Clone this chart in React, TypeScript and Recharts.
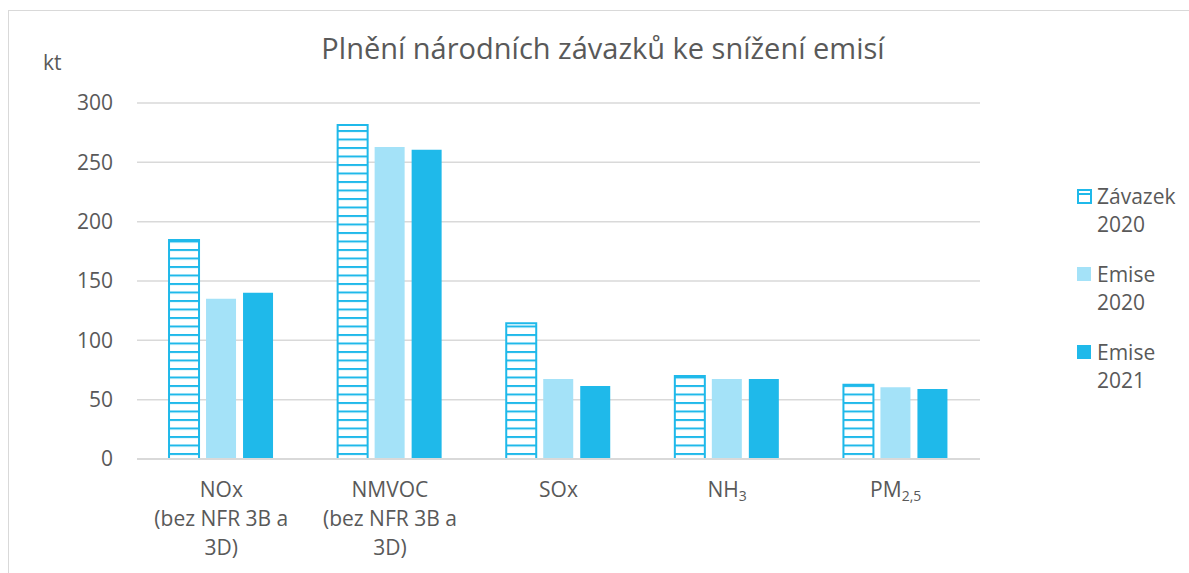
import { BarChart, Bar, XAxis, YAxis, CartesianGrid } from "recharts";

const categories = ["NOx", "NMVOC", "SOx", "NH3", "PM2,5"];
const zavazek2020 = [184.5, 281.5, 114.5, 70, 62.5];
const emise2020 = [135, 263, 67.5, 67.5, 60.5];
const emise2021 = [140, 260.5, 61.5, 67.5, 59];
const yTicks = [0, 50, 100, 150, 200, 250, 300];

// multi-line labels with subscript parts: [main, sub]
const tickLines: Record<string, [string, string][]> = {
  NOx: [["NOx", ""], ["(bez NFR 3B a", ""], ["3D)", ""]],
  NMVOC: [["NMVOC", ""], ["(bez NFR 3B a", ""], ["3D)", ""]],
  SOx: [["SOx", ""]],
  NH3: [["NH", "3"]],
  "PM2,5": [["PM", "2,5"]],
};

const legendItems = [
  { label: ["Závazek", "2020"], kind: "hatch" },
  { label: ["Emise", "2020"], kind: "light" },
  { label: ["Emise", "2021"], kind: "dark" },
];

const DARK = "#1fb9ea";
const LIGHT = "#a4e2f8";
const TEXT = "#595959";
const FONT = "'Open Sans', sans-serif";

const data = categories.map((c, i) => ({
  cat: c,
  zavazek: zavazek2020[i],
  e2020: emise2020[i],
  e2021: emise2021[i],
}));

function CatTick(props: any) {
  const { x, y, payload } = props;
  const lines = tickLines[payload.value] || [[payload.value, ""]];
  return (
    <g transform={`translate(${x},${y})`}>
      {lines.map(([main, sub], i) => (
        <text
          key={i}
          x={0}
          y={38 + i * 29}
          textAnchor="middle"
          fill={TEXT}
          fontSize={21}
          fontFamily={FONT}
        >
          {main}
          {sub ? (
            <tspan fontSize={14} dy={4}>
              {sub}
            </tspan>
          ) : null}
        </text>
      ))}
    </g>
  );
}

export default function App() {
  return (
    <div
      style={{
        position: "fixed",
        left: 8,
        top: 10,
        width: 1181,
        height: 563,
        borderTop: "1px solid #d9d9d9",
        borderLeft: "1px solid #d9d9d9",
        background: "#fff",
        fontFamily: FONT,
      }}
    >
      <div
        style={{
          position: "absolute",
          left: 0,
          width: 1188,
          top: 17,
          textAlign: "center",
          fontSize: 29,
          color: TEXT,
          whiteSpace: "nowrap",
        }}
      >
        Plnění národních závazků ke snížení emisí
      </div>
      <div style={{ position: "absolute", left: 34, top: 37, fontSize: 21, color: TEXT }}>kt</div>

      <div style={{ position: "absolute", left: 1068, top: 171 }}>
        {legendItems.map((it, i) => (
          <div key={i} style={{ position: "relative", height: 78, color: TEXT, fontSize: 21, lineHeight: "28px" }}>
            <svg width={16} height={16} style={{ position: "absolute", left: 0, top: 7 }}>
              {it.kind === "hatch" ? (
                <>
                  <rect x={1} y={1} width={13} height={13} fill="#fff" stroke={DARK} strokeWidth={2} />
                  <rect x={1} y={4} width={13} height={2} fill={DARK} />
                </>
              ) : (
                <rect x={0} y={0} width={14} height={14} fill={it.kind === "light" ? LIGHT : DARK} />
              )}
            </svg>
            <div style={{ paddingLeft: 20 }}>
              {it.label[0]}
              <br />
              {it.label[1]}
            </div>
          </div>
        ))}
      </div>

      <BarChart
        width={1180}
        height={562}
        data={data}
        margin={{ top: 92, right: 209, left: 0, bottom: 14 }}
        barCategoryGap="19%"
        barGap={7}
      >
        <defs>
          <pattern id="hatch" patternUnits="userSpaceOnUse" width={8} height={8.5}>
            <rect x={0} y={0} width={8} height={8.5} fill="#fff" />
            <rect x={0} y={0} width={8} height={2} fill={DARK} />
          </pattern>
        </defs>
        <CartesianGrid vertical={false} stroke="#d9d9d9" strokeWidth={1.5} />
        <XAxis
          dataKey="cat"
          height={100}
          tickLine={false}
          tickSize={0}
          tickMargin={0}
          axisLine={{ stroke: "#d9d9d9", strokeWidth: 2 }}
          tick={<CatTick />}
          interval={0}
        />
        <YAxis
          width={128}
          domain={[0, 300]}
          ticks={yTicks}
          axisLine={false}
          tickLine={false}
          tickSize={0}
          tickMargin={24}
          tick={{ fill: TEXT, fontSize: 21, fontFamily: FONT }}
        />
        <Bar dataKey="zavazek" fill="url(#hatch)" stroke={DARK} strokeWidth={2} isAnimationActive={false} />
        <Bar dataKey="e2020" fill={LIGHT} isAnimationActive={false} />
        <Bar dataKey="e2021" fill={DARK} isAnimationActive={false} />
      </BarChart>
    </div>
  );
}
